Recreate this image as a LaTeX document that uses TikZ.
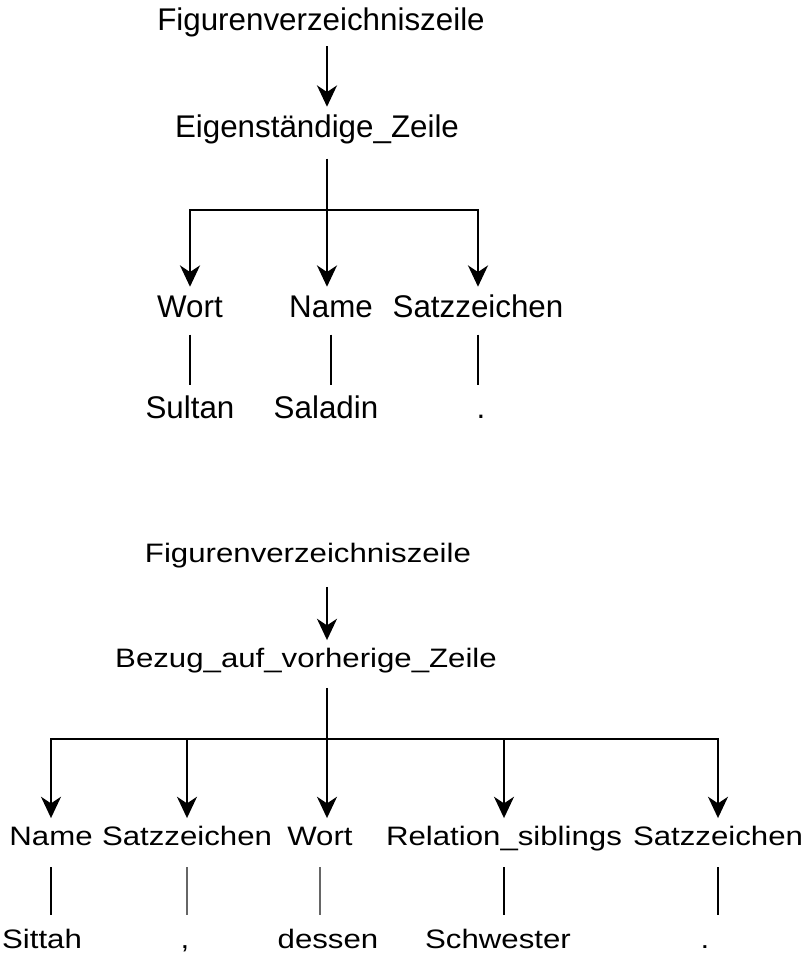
\documentclass[tikz,border=0pt]{standalone}
\usepackage{fontspec}
\setmainfont{Liberation Sans}
\newfontfamily\flatfont{Liberation Sans}[FakeStretch=1.17]
\usetikzlibrary{arrows.meta}

\tikzset{
  lbl/.style={inner sep=0pt, anchor=base, text height=17pt, text depth=5pt,
    font=\fontsize{23.5}{28}\selectfont},
  lblb/.style={inner sep=0pt, anchor=base, text height=14.5pt, text depth=4.5pt,
    font=\flatfont\fontsize{20}{24}\selectfont},
  arr/.style={-{Stealth[length=16pt,width=15pt,inset=5pt]}, line width=1.7pt, shorten >=5.5pt},
  ln/.style={line width=1.7pt, shorten <=8pt, shorten >=7.5pt},
  lnb/.style={line width=1.7pt, shorten <=12pt, shorten >=10pt}
}

\begin{document}
\begin{tikzpicture}[x=0.75pt, y=-0.75pt]
  \useasboundingbox (0,0) rectangle (804,971);
  % erster Baum
  \node[lbl] (fig1) at (321,30) {Figurenverzeichniszeile};
  \node[lbl] (eig) at (317,137) {Eigenständige\_Zeile};
  \node[lbl] (wort1) at (190,317) {Wort};
  \node[lbl] (name1) at (331,317) {Name};
  \node[lbl] (satz1) at (478,317) {Satzzeichen};
  \node[lbl] (sultan) at (190,418) {Sultan};
  \node[lbl] (saladin) at (326,418) {Saladin};
  \node[lbl] (punkt1) at (481,418) {.};
  \coordinate (j1) at (327,210);

  \draw[arr, shorten <=7pt] (fig1.south -| j1) -- (eig.north -| j1);
  \draw[line width=1.7pt, shorten <=11pt] (eig.south -| j1) -- (j1);
  \draw[arr] (j1) -| (wort1);
  \draw[arr] (j1) -- (j1 |- name1.north);
  \draw[arr] (j1) -| (satz1);
  \draw[ln] (wort1) -- (wort1 |- sultan.north);
  \draw[ln] (name1) -- (name1 |- saladin.north);
  \draw[ln] (satz1) -- (satz1 |- punkt1.north);

  % zweiter Baum
  \node[lblb] (fig2) at (308,562) {Figurenverzeichniszeile};
  \node[lblb] (bezug) at (306,667) {Bezug\_auf\_vorherige\_Zeile};
  \node[lblb] (name2) at (51,845) {Name};
  \node[lblb] (satz2) at (187,845) {Satzzeichen};
  \node[lblb] (wort2) at (320,845) {Wort};
  \node[lblb] (rel) at (504,845) {Relation\_siblings};
  \node[lblb] (satz3) at (718,845) {Satzzeichen};
  \node[lblb] (sittah) at (42,948) {Sittah};
  \node[lblb] (komma) at (185,948) {,};
  \node[lblb] (dessen) at (328,948) {dessen};
  \node[lblb] (schwester) at (498,948) {Schwester};
  \node[lblb] (punkt2) at (705,948) {.};
  \coordinate (j2) at (327,739);

  \draw[arr, shorten <=14pt] (fig2.south -| j2) -- (bezug.north -| j2);
  \draw[line width=1.7pt, shorten <=11pt] (bezug.south -| j2) -- (j2);
  \draw[arr] (j2) -| (name2);
  \draw[arr] (j2) -| (satz2);
  \draw[arr] (j2) -- (j2 |- wort2.north);
  \draw[arr] (j2) -| (rel);
  \draw[arr] (j2) -| (satz3);
  \draw[lnb] (name2) -- (name2 |- sittah.north);
  \draw[lnb, black!60] (satz2) -- (satz2 |- komma.north);
  \draw[lnb, black!60] (wort2) -- (wort2 |- dessen.north);
  \draw[lnb] (rel) -- (rel |- schwester.north);
  \draw[lnb] (satz3) -- (satz3 |- punkt2.north);
\end{tikzpicture}
\end{document}
